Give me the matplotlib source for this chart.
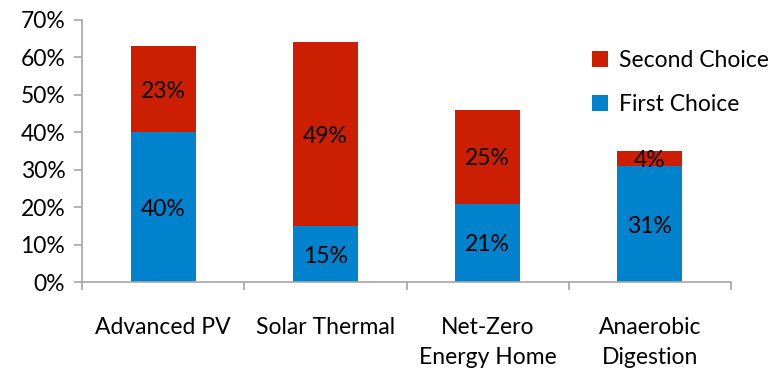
import matplotlib
matplotlib.use("Agg")
import matplotlib.pyplot as plt
import numpy as np
from matplotlib.ticker import FuncFormatter, FixedLocator

plt.rcParams['font.family'] = ['Lato', 'DejaVu Sans']

categories = ["Advanced PV", "Solar Thermal", "Net-Zero\nEnergy Home", "Anaerobic\nDigestion"]
first_choice = [40, 15, 21, 31]
second_choice = [23, 49, 25, 4]
y_ticks = [0, 10, 20, 30, 40, 50, 60, 70]

blue = "#0083CC"
red = "#CC1E00"
axis_gray = "#A6A6A6"
fs = 16.5

fig = plt.figure(figsize=(7.68, 3.68), dpi=100)
ax = fig.add_axes([82 / 768, 1 - 282.3 / 368, (731 - 82) / 768, (282.3 - 20) / 368])

x = np.arange(len(categories))
w = 0.4
b1 = ax.bar(x, first_choice, w, color=blue, label="First Choice")
b2 = ax.bar(x, second_choice, w, bottom=first_choice, color=red, label="Second Choice")

for xi, v in zip(x, first_choice):
    ax.text(xi, v / 2, f"{v}%", ha="center", va="center_baseline", fontsize=fs, color="black")
for xi, b, v in zip(x, first_choice, second_choice):
    ax.text(xi, b + v / 2, f"{v}%", ha="center", va="center_baseline", fontsize=fs, color="black")

ax.set_xlim(-0.5, len(categories) - 0.5)
ax.set_ylim(0, 70)
ax.set_yticks(y_ticks)
ax.yaxis.set_major_formatter(FuncFormatter(lambda v, p: f"{v:.0f}%"))

ax.set_xticks(x)
ax.set_xticklabels(categories, fontsize=fs, linespacing=1.5)
ax.xaxis.set_minor_locator(FixedLocator(np.arange(len(categories) + 1) - 0.5))
ax.tick_params(axis="x", which="major", length=0, pad=25)
ax.tick_params(axis="x", which="minor", length=6, width=1.2, color=axis_gray, direction="out")
ax.tick_params(axis="y", length=6, width=1.2, color=axis_gray, labelsize=fs, pad=6)

for s in ["top", "right"]:
    ax.spines[s].set_visible(False)
for s in ["left", "bottom"]:
    ax.spines[s].set_color(axis_gray)
    ax.spines[s].set_linewidth(1.2)

handles = [b2, b1]
ax.legend(handles, ["Second Choice", "First Choice"], loc="upper left",
          bbox_to_anchor=(583 / 768, 1 - 41 / 368), bbox_transform=fig.transFigure,
          frameon=False, fontsize=fs, handlelength=0.7, handleheight=0.7,
          handletextpad=0.45, labelspacing=1.0, borderaxespad=0)

fig.savefig("out.png", dpi=100)
